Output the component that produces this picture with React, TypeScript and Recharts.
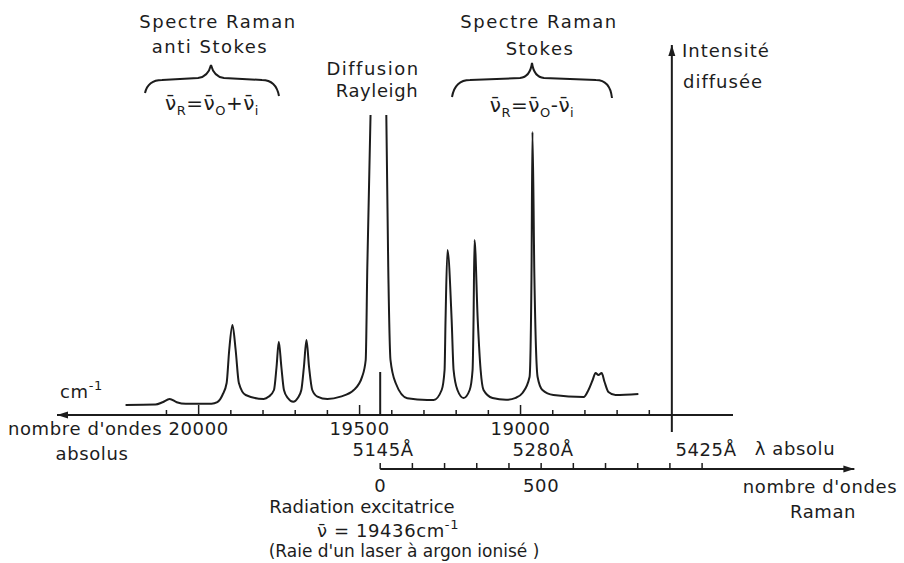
import { Line, LineChart, ReferenceDot, ReferenceLine, XAxis, YAxis } from "recharts";

// nombre d'ondes absolu (cm-1), intensité diffusée (unités arbitraires)
const excitation = 19436;

const antiStokes: [number, number][] = [
  [20227, 2.5], [20134, 2.6], [20112, 3.2], [20090, 4], [20068, 3.2], [20040, 2.8],
  [19960, 2.8], [19942, 3.2], [19926, 5], [19913, 8], [19905, 16.25], [19895, 22.5],
  [19885, 16.25], [19875, 8], [19854, 5], [19798, 4],
  [19782, 4.6], [19766, 6.25], [19758, 12], [19751, 18.3], [19743, 12], [19735, 6.25],
  [19723, 4.25], [19706, 3.3],
  [19692, 4.25], [19681, 6.25], [19673, 12], [19665, 18.75], [19657, 12], [19647, 6.25],
  [19631, 4.6], [19600, 4],
];

// raie Rayleigh hors échelle : trait interrompu au sommet
const rayleigh: [number, number | null][] = [
  [19559, 4.6], [19518, 6.25], [19492, 9.6], [19481, 13.75], [19476, 37], [19466, 75],
  [excitation, null],
  [19417, 75], [19411, 37], [19404, 13.75], [19388, 8], [19352, 4.2], [19290, 3.75],
];

const stokes: [number, number][] = [
  [19270, 3.75], [19245, 6.25], [19236, 11.25], [19233, 23.75], [19227, 41.25],
  [19214, 23.75], [19208, 11.25], [19196, 6.25], [19177, 4.25],
  [19158, 6.25], [19149, 11.25], [19146, 23.75], [19143, 43.75], [19133, 23.75],
  [19124, 11.25], [19115, 6.25], [19087, 4.25], [19045, 3.8],
  [19015, 4.3], [18994, 5.5], [18972, 9.5], [18966, 34.5], [18963, 70.75], [18957, 34.5],
  [18947, 9.5], [18932, 6.25], [18898, 5], [18804, 4.5],
  [18789, 6.25], [18776, 8.75], [18767, 10.5], [18758, 10], [18748, 10.5], [18739, 8.25],
  [18727, 5.75], [18705, 5], [18634, 5.25],
];

const absTicks = [
  20100, 20000, 19900, 19800, 19700, 19600, 19500, 19400, 19300, 19200, 19100, 19000,
  18900, 18800, 18700, 18600,
];
const absLabels = [20000, 19500, 19000];
const wavelengths = [5145, 5280, 5425]; // Å
const ramanTicks = [0, 100, 200, 300, 400, 500, 600, 700, 800, 900, 1000];
const ramanLabels = [0, 500];

const spectrum = [...antiStokes, ...rayleigh, ...stokes].map(([nu, i]) => ({ nu, i }));

const nuDomain: [number, number] = [18340, 20440];
const intensityAxisAt = 18530;
const ramanAxisY = -13.5;
const ramanAxisEnd = 1473;

const ink = "#1c1c1c";
const txt = {
  fontFamily: "'DejaVu Sans', sans-serif",
  fontSize: 18,
  fill: ink,
  letterSpacing: 0.6,
};
const title = { ...txt, letterSpacing: 1.5 };

function Arrow(props: any) {
  const { x1, y1, x2, y2 } = props;
  const a = Math.atan2(y2 - y1, x2 - x1);
  const len = 11;
  const w = 3.5;
  const bx = x2 - len * Math.cos(a);
  const by = y2 - len * Math.sin(a);
  const px = -Math.sin(a) * w;
  const py = Math.cos(a) * w;
  return (
    <g>
      <line x1={x1} y1={y1} x2={x2} y2={y2} stroke={ink} strokeWidth={2} />
      <path d={`M${x2},${y2}L${bx + px},${by + py}L${bx - px},${by - py}Z`} fill={ink} />
    </g>
  );
}

function AbsTick({ x, y, payload }: any) {
  const v = payload.value;
  return (
    <g>
      <line x1={x} x2={x} y1={y} y2={y - (v % 500 === 0 ? 10 : 5)} stroke={ink} strokeWidth={1.5} />
      {absLabels.includes(v) && (
        <text x={x} y={y + 20} textAnchor="middle" {...txt}>
          {v}
        </text>
      )}
    </g>
  );
}

function Formula({ x, y, op }: { x: number; y: number; op: string }) {
  return (
    <text x={x} y={y} textAnchor="middle" {...txt} letterSpacing={0.5} fontSize={20}>
      ν̄<tspan fontSize={13} dy={5}>R</tspan>
      <tspan dy={-5}>=ν̄</tspan>
      <tspan fontSize={13} dy={5}>O</tspan>
      <tspan dy={-5}>{op}ν̄</tspan>
      <tspan fontSize={13} dy={5}>i</tspan>
    </text>
  );
}

function Annotations() {
  return (
    <svg
      width={904}
      height={563}
      style={{ position: "absolute", left: 0, top: 0, pointerEvents: "none" }}
    >
      <text x={218} y={28} textAnchor="middle" {...title}>Spectre Raman</text>
      <text x={210} y={53} textAnchor="middle" {...title}>anti Stokes</text>
      <path
        d="M145,93 Q148,80 162,80 L198,78 Q208,77 211,65 Q214,77 224,78 L262,80 Q276,80 279,96"
        fill="none"
        stroke={ink}
        strokeWidth={2}
      />
      <Formula x={212} y={110} op="+" />

      <text x={373} y={75} textAnchor="middle" {...title}>Diffusion</text>
      <text x={377} y={97} textAnchor="middle" {...txt}>Rayleigh</text>

      <text x={539} y={28} textAnchor="middle" {...title}>Spectre Raman</text>
      <text x={540} y={55} textAnchor="middle" {...title}>Stokes</text>
      <path
        d="M452,97 Q455,80 470,80 L520,78 Q530,77 532,63 Q534,77 544,78 L596,80 Q610,80 612,98"
        fill="none"
        stroke={ink}
        strokeWidth={2}
      />
      <Formula x={532} y={112} op="-" />

      <text x={682} y={57} {...title} letterSpacing={1}>Intensité</text>
      <text x={683} y={88} {...title} letterSpacing={1}>diffusée</text>

      <text x={60} y={398} {...txt}>
        cm<tspan fontSize={13} dy={-8}>-1</tspan>
      </text>
      <text x={8} y={435} {...txt}>nombre d'ondes</text>
      <text x={92} y={460} textAnchor="middle" {...txt}>absolus</text>

      <text x={795} y={455} textAnchor="middle" {...txt}>λ absolu</text>
      <text x={820} y={493} textAnchor="middle" {...txt}>nombre d'ondes</text>
      <text x={823} y={518} textAnchor="middle" {...txt}>Raman</text>

      <text x={362} y={513} textAnchor="middle" {...txt} letterSpacing={0}>
        Radiation excitatrice
      </text>
      <text x={388} y={537} textAnchor="middle" {...txt}>
        ν̄ = {excitation}cm<tspan fontSize={13} dy={-8}>-1</tspan>
      </text>
      <text x={404} y={557} textAnchor="middle" {...txt} letterSpacing={0} fontSize={17}>
        (Raie d'un laser à argon ionisé )
      </text>
    </svg>
  );
}

export default function App() {
  return (
    <div
      style={{
        position: "absolute",
        left: 0,
        top: 0,
        width: 904,
        height: 563,
        background: "#fff",
      }}
    >
      <LineChart
        width={904}
        height={563}
        data={spectrum}
        margin={{ top: 15, right: 171, bottom: 118, left: 57 }}
      >
        <XAxis
          xAxisId="nu"
          dataKey="nu"
          type="number"
          domain={nuDomain}
          reversed
          allowDataOverflow
          ticks={absTicks}
          interval={0}
          tick={AbsTick}
          tickSize={0}
          tickMargin={0}
          axisLine={false}
          tickLine={false}
          height={30}
        />
        <YAxis hide domain={[0, 100]} allowDataOverflow />

        {/* axe des nombres d'ondes absolus */}
        <ReferenceLine
          xAxisId="nu"
          segment={[{ x: nuDomain[0], y: 0 }, { x: nuDomain[1], y: 0 }]}
          ifOverflow="visible"
          shape={Arrow}
        />
        {/* axe des intensités */}
        <ReferenceLine
          xAxisId="nu"
          segment={[{ x: intensityAxisAt, y: -4.25 }, { x: intensityAxisAt, y: 92.5 }]}
          ifOverflow="visible"
          shape={Arrow}
        />
        {/* raie excitatrice */}
        <ReferenceLine
          xAxisId="nu"
          segment={[{ x: excitation, y: 0 }, { x: excitation, y: 10.75 }]}
          ifOverflow="visible"
          stroke={ink}
          strokeWidth={2}
        />

        {/* longueurs d'onde absolues */}
        {wavelengths.map((l) => (
          <ReferenceDot
            key={`l${l}`}
            xAxisId="nu"
            x={1e8 / l}
            y={0}
            r={0}
            ifOverflow="visible"
            shape={(p: any) => (
              <text x={p.cx + 3} y={p.cy + 41} textAnchor="middle" {...txt}>
                {`${l}Å`}
              </text>
            )}
          />
        ))}

        {/* axe des nombres d'ondes Raman (décalage depuis la raie excitatrice) */}
        <ReferenceLine
          xAxisId="nu"
          segment={[
            { x: excitation, y: ramanAxisY },
            { x: excitation - ramanAxisEnd, y: ramanAxisY },
          ]}
          ifOverflow="visible"
          shape={Arrow}
        />
        {ramanTicks.map((r) => (
          <ReferenceLine
            key={`rt${r}`}
            xAxisId="nu"
            segment={[
              { x: excitation - r, y: ramanAxisY },
              { x: excitation - r, y: ramanAxisY + 1.5 },
            ]}
            ifOverflow="visible"
            stroke={ink}
            strokeWidth={1.5}
          />
        ))}
        {ramanLabels.map((r) => (
          <ReferenceDot
            key={`rl${r}`}
            xAxisId="nu"
            x={excitation - r}
            y={ramanAxisY}
            r={0}
            ifOverflow="visible"
            shape={(p: any) => (
              <text x={p.cx} y={p.cy + 23} textAnchor="middle" {...txt}>
                {r}
              </text>
            )}
          />
        ))}

        <Line
          xAxisId="nu"
          dataKey="i"
          type="monotone"
          stroke={ink}
          strokeWidth={2}
          dot={false}
          isAnimationActive={false}
        />
      </LineChart>
      <Annotations />
    </div>
  );
}
